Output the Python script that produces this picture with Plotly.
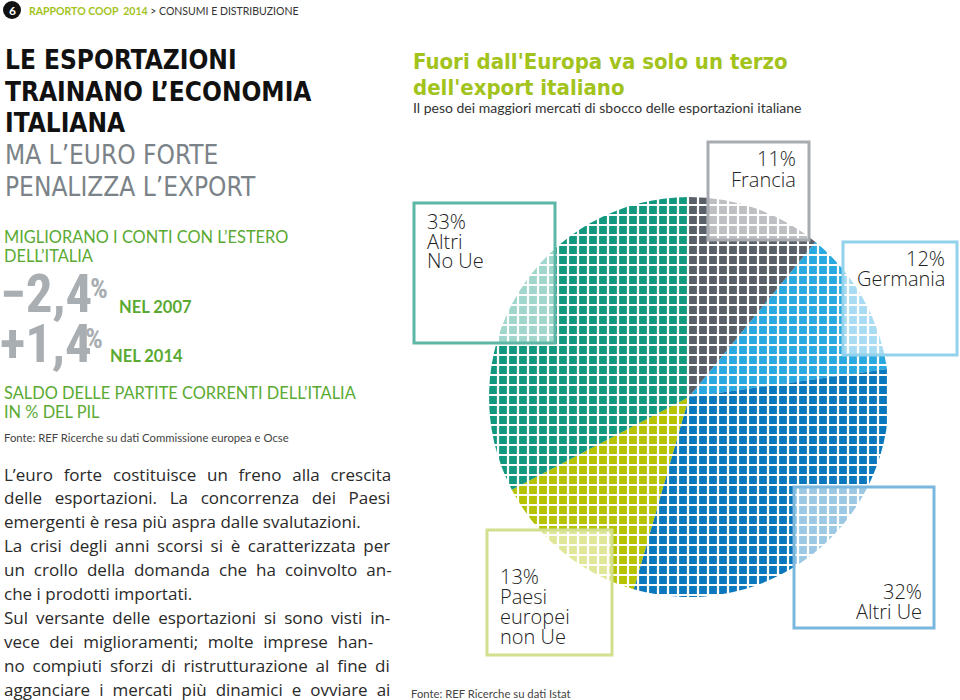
import plotly.graph_objects as go

# ---------------- data ----------------
categories = ["Francia", "Germania", "Altri Ue", "Paesi europei non Ue", "Altri No Ue"]
values = [11, 12, 32, 13, 33]
slice_colors = ["#5a6068", "#29a9e0", "#0b77bc", "#b5c300", "#12987f"]
box_colors = ["#a8abaf", "#93d2ec", "#7ab7de", "#d2df8d", "#5db7a6"]
label_lines = [["Francia"], ["Germania"], ["Altri Ue"], ["Paesi", "europei", "non Ue"], ["Altri", "No Ue"]]

stat_values = ["−2,4", "+1,4"]
stat_years = ["NEL 2007", "NEL 2014"]

body_lines = [
    "L’euro forte costituisce un freno alla crescita",
    "delle esportazioni. La concorrenza dei Paesi",
    "emergenti è resa più aspra dalle svalutazioni.",
    "La crisi degli anni scorsi si è caratterizzata per",
    "un crollo della domanda che ha coinvolto an-",
    "che i prodotti importati.",
    "Sul versante delle esportazioni si sono visti in-",
    "vece dei miglioramenti; molte imprese han-",
    "no compiuti sforzi di ristrutturazione al fine di",
    "agganciare i mercati più dinamici e ovviare ai",
]
# approximate natural rendered width (px) of each line, used to justify (None = ragged)
body_natural = [347, 344, None, 359, 353, None, 361, 359, 361, 353]

W, H = 960, 700
def X(px): return px / W
def Y(py): return 1 - py / H

COND = "DejaVu Sans Condensed, DejaVu Sans"
NARROW = "Roboto Condensed, Roboto, DejaVu Sans Condensed"
BODY = "Lato, Noto Sans, sans-serif"
TEXT = "Open Sans, Noto Sans, sans-serif"
GREEN = "#5aaa32"
LIME = "#a2c31c"

fig = go.Figure()

# pie center (689,397) radius 200
cx, cy, r = 689, 397, 200
fig.add_trace(go.Pie(
    labels=categories, values=values, sort=False, direction="clockwise", rotation=0,
    marker=dict(colors=slice_colors, line=dict(width=0)),
    textinfo="none", hoverinfo="label+percent", showlegend=False,
    domain=dict(x=[X(cx - r), X(cx + r)], y=[Y(cy + r), Y(cy - r)]),
))

shapes = []
# mosaic grid overlay (white gaps between tiles)
pitch = 10
for k in range(0, 42):
    gx = cx - r - 1 + k * pitch
    shapes.append(dict(type="line", xref="paper", yref="paper", layer="above",
                       x0=X(gx), x1=X(gx), y0=Y(cy + r + 5), y1=Y(cy - r - 5),
                       line=dict(color="white", width=2.2)))
    gy = cy - r - 2 + k * pitch
    shapes.append(dict(type="line", xref="paper", yref="paper", layer="above",
                       x0=X(cx - r - 5), x1=X(cx + r + 5), y0=Y(gy), y1=Y(gy),
                       line=dict(color="white", width=2.2)))

# label boxes (px: x0, y0, x1, y1)
boxes = {
    "Francia": (708, 142, 809, 240),
    "Germania": (843, 242, 957, 355),
    "Altri Ue": (794, 487, 934, 628),
    "Paesi europei non Ue": (487, 530, 612, 655),
    "Altri No Ue": (414, 203, 555, 343),
}
for cat, bc in zip(categories, box_colors):
    x0, y0, x1, y1 = boxes[cat]
    shapes.append(dict(type="rect", xref="paper", yref="paper", layer="above",
                       x0=X(x0), x1=X(x1), y0=Y(y1), y1=Y(y0),
                       fillcolor="rgba(255,255,255,0.6)", line=dict(color=bc, width=3)))

# page number circle
shapes.append(dict(type="circle", xref="paper", yref="paper", layer="above",
                   x0=X(3), x1=X(21), y0=Y(19), y1=Y(1),
                   fillcolor="#111111", line=dict(width=0)))

ann = []
def A(text, x, y, size, color="#222", family=BODY, xanchor="left", yanchor="middle",
      weight="normal"):
    ann.append(dict(text=text, x=X(x), y=Y(y), xref="paper", yref="paper",
                    xanchor=xanchor, yanchor=yanchor, showarrow=False,
                    font=dict(size=size, color=color, family=family, weight=weight)))

# header
A("6", 12, 10.5, 12, color="white", xanchor="center", weight="bold")
A("<b><span style='color:%s'>RAPPORTO COOP\u00a0\u00a02014</span></b> > CONSUMI E DISTRIBUZIONE" % LIME,
  27, 10.5, 10.5, color="#333")

# headline
for txt, yy, col, wt in [("LE ESPORTAZIONI", 60, "#111", "bold"),
                         ("TRAINANO L’ECONOMIA", 92, "#111", "bold"),
                         ("ITALIANA", 123, "#111", "bold"),
                         ("MA L’EURO FORTE", 155, "#7b8388", "normal"),
                         ("PENALIZZA L’EXPORT", 187, "#7b8388", "normal")]:
    A(txt, 3, yy, 26, color=col, family=COND, weight=wt)

A("MIGLIORANO I CONTI CON L’ESTERO", 2, 237, 16.4, color=GREEN)
A("DELL’ITALIA", 2, 255, 16.4, color=GREEN)

# big stats
stat_geo = [dict(y=294, px=88, py=288, nx=117, ny=307), dict(y=344, px=83, py=338, nx=108, ny=356)]
for v, yr, g in zip(stat_values, stat_years, stat_geo):
    A(v, -2, g["y"], 53, color="#a9aeb2", family=NARROW, weight="bold")
    A("%", g["px"], g["py"], 28, color="#a9aeb2", family=NARROW, weight="bold")
    A("<b>%s</b>" % yr, g["nx"], g["ny"], 16.5, color=GREEN)

A("SALDO DELLE PARTITE CORRENTI DELL’ITALIA", 2, 392, 16.4, color=GREEN)
A("IN % DEL PIL", 2, 412, 16.4, color=GREEN)
A("Fonte: REF Ricerche su dati Commissione europea e Ocse", 2, 437, 11.3, color="#444")

target_w = 385
for i, (line, nat) in enumerate(zip(body_lines, body_natural)):
    txt = line
    if nat is not None:
        gaps = line.count(" ")
        ws = (target_w - nat) / gaps
        txt = "<span style='word-spacing:%.2fpx'>%s</span>" % (ws, line)
    A(txt, 2, 474 + i * 23.9, 17, color="#2a2a2a", family=TEXT)

# right column title
A("<b>Fuori dall'Europa va solo un terzo</b>", 411, 61, 22, color=LIME, family=COND)
A("<b>dell'export italiano</b>", 411, 87, 22, color=LIME, family=COND)
A("Il peso dei maggiori mercati di sbocco delle esportazioni italiane", 411, 108, 14, color="#333")

# pie labels from data
label_pos = {
    "Francia": (798, 159, "right"),
    "Germania": (947, 258, "right"),
    "Altri Ue": (924, 591, "right"),
    "Paesi europei non Ue": (498, 576, "left"),
    "Altri No Ue": (425, 221, "left"),
}
for cat, v, lines in zip(categories, values, label_lines):
    lx, ly, al = label_pos[cat]
    for j, t in enumerate(["%d%%" % v] + lines):
        A(t, lx, ly + j * 20, 20, color="#222", family=TEXT, xanchor=al, weight=300)

A("Fonte: REF Ricerche su dati Istat", 409, 693, 11.3, color="#444")

fig.update_layout(width=W, height=H, margin=dict(l=0, r=0, t=0, b=0),
                  paper_bgcolor="white", plot_bgcolor="white",
                  shapes=shapes, annotations=ann)
fig.write_html("out.html", config={"displayModeBar": False},
               post_script="document.body.style.margin='0';document.body.style.padding='0';document.body.style.overflow='hidden';")
